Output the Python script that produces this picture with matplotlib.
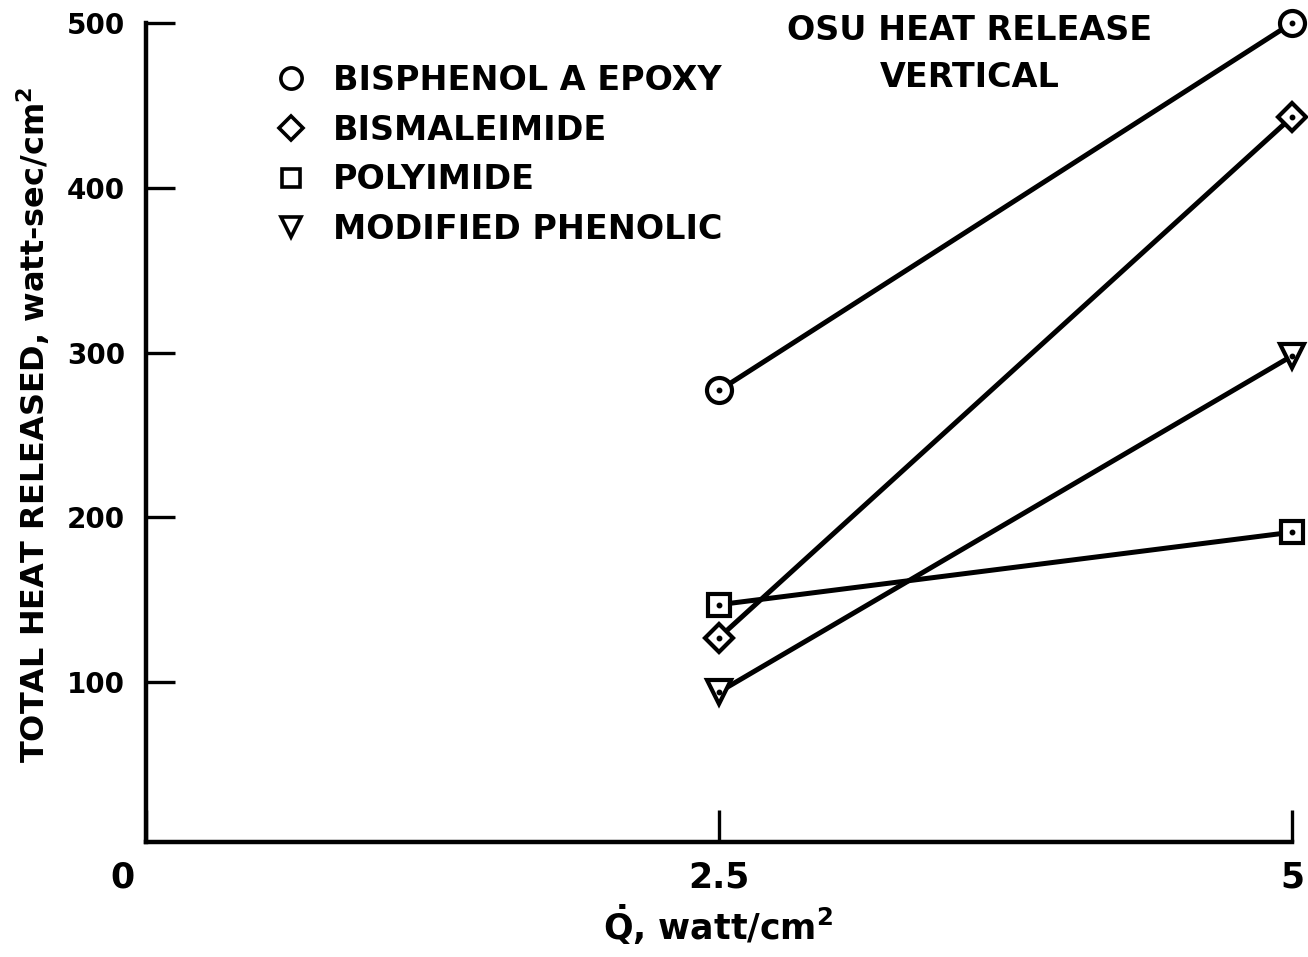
import matplotlib
matplotlib.use("Agg")
import matplotlib.pyplot as plt
from matplotlib.lines import Line2D
from matplotlib.transforms import ScaledTranslation

# values (total heat released, watt-sec/cm2)
q_flux = [2.5, 5.0]
epoxy = [277, 500]
bismaleimide = [127, 443]
polyimide = [147, 191]
phenolic = [94, 298]

series_names = ["BISPHENOL A EPOXY", "BISMALEIMIDE", "POLYIMIDE", "MODIFIED PHENOLIC"]
x_ticks = [0, 2.5, 5]
x_tick_labels = ["0", "2.5", "5"]
y_ticks = [100, 200, 300, 400, 500]

plt.rcParams['font.family'] = ['DejaVu Sans']
plt.rcParams['font.weight'] = 'bold'
plt.rcParams['axes.labelweight'] = 'bold'
plt.rcParams['mathtext.fontset'] = 'custom'
plt.rcParams['mathtext.rm'] = 'DejaVu Sans:bold'
plt.rcParams['mathtext.bf'] = 'DejaVu Sans:bold'
plt.rcParams['mathtext.it'] = 'DejaVu Sans:bold'

fig = plt.figure(figsize=(13.08, 9.57), dpi=100)
ax = fig.add_axes([146/1308, 1 - 842/957, (1292 - 146)/1308, (842 - 23)/957])

styles = [('o', 18), ('D', 14), ('s', 15.5), ('v', 17.5)]
all_series = [epoxy, bismaleimide, polyimide, phenolic]

for vals, (mk, ms) in zip(all_series, styles):
    ax.plot(q_flux, vals, color='black', lw=3.6, marker=mk, ms=ms,
            mfc='white', mec='black', mew=3.0, zorder=3, clip_on=False)
    ax.plot(q_flux, vals, ls='none', marker='o', ms=3.2, color='black',
            zorder=4, clip_on=False)

ax.set_xlim(0, 5)
ax.set_ylim(3, 500)
for side in ['top', 'right']:
    ax.spines[side].set_visible(False)
for side in ['left', 'bottom']:
    ax.spines[side].set_linewidth(3.2)

ax.set_xticks(x_ticks)
ax.set_xticklabels(x_tick_labels, fontsize=25)
ax.set_yticks(y_ticks)
ax.tick_params(axis='y', direction='in', length=21, width=2.4, pad=15, labelsize=20)
ax.tick_params(axis='x', direction='in', length=23, width=2.4, pad=13)

# the "0" sits left of the corner
lbl0 = ax.get_xticklabels()[0]
lbl0.set_transform(lbl0.get_transform() + ScaledTranslation(-24/100, 0, fig.dpi_scale_trans))

ax.set_ylabel("TOTAL HEAT RELEASED, watt-sec/cm$^{2}$", fontsize=23)
ax.yaxis.set_label_coords(-0.082, 0.51)
ax.set_xlabel(r"$\dot{Q}$, watt/cm$^{2}$", fontsize=25)
ax.xaxis.set_label_coords(0.499, -0.074)

handles = [Line2D([], [], ls='none', marker=mk, ms=ms * 0.85, mfc='white',
                  mec='black', mew=2.6) for mk, ms in styles]
ax.legend(handles, series_names, loc='upper left', bbox_to_anchor=(273/1308, 1 - 64/957),
          bbox_transform=fig.transFigure, frameon=False, fontsize=24, borderpad=0,
          borderaxespad=0, handlelength=1.05, handletextpad=0.75, labelspacing=0.5)

fig.text(970/1308, 1 - 54/957, "OSU HEAT RELEASE\nVERTICAL", ha='center', va='center',
         multialignment='center', fontsize=24, linespacing=1.55)

fig.savefig("out.png", dpi=100)
